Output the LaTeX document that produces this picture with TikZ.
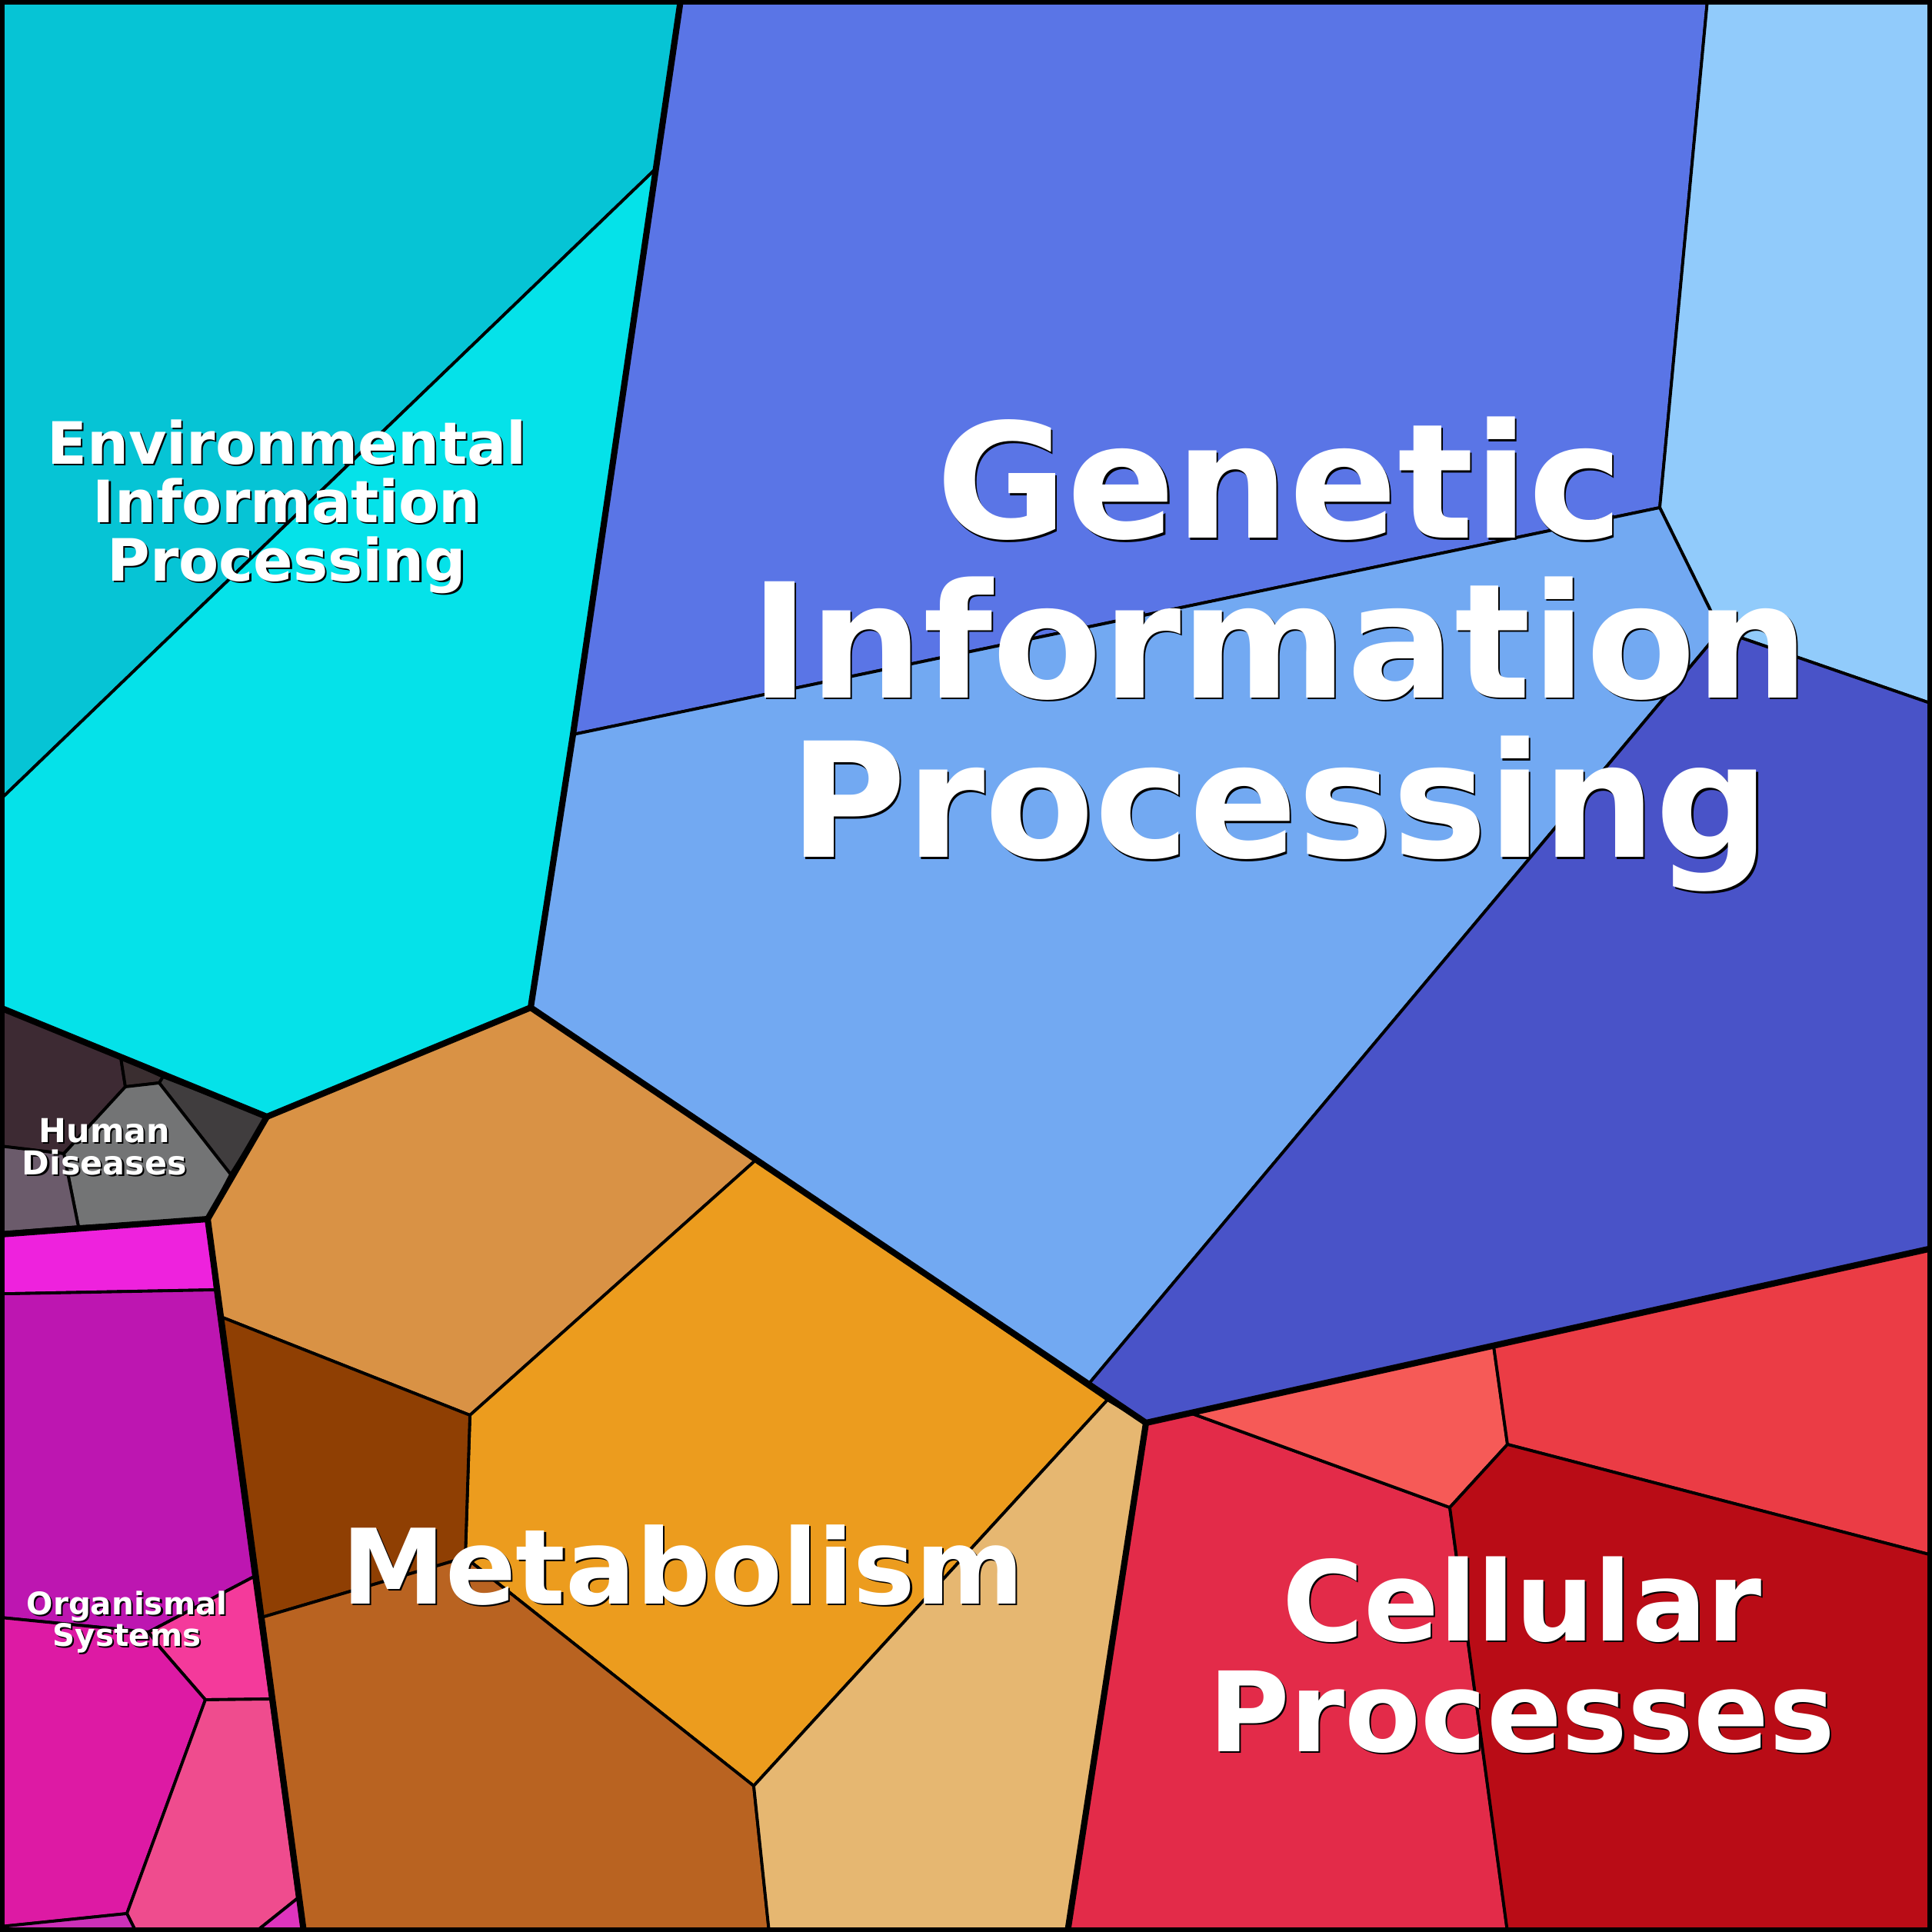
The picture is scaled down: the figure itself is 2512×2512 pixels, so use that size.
\documentclass[tikz,border=0pt]{standalone}
\usepackage{fontspec}
\setmainfont{DejaVu Sans}
\begin{document}
\begin{tikzpicture}[x=0.01cm,y=-0.01cm,
 cell/.style={draw=black,line width=1.1pt,line join=round},
 major/.style={draw=black,line width=2.3pt,line join=round},
 lbl/.style={text=white,align=center,inner sep=0pt}]
\useasboundingbox (0,0) rectangle (2512,2512);
% Environmental
\path[cell,fill={rgb,255:red,6;green,196;blue,213}] (0,0)--(885,0)--(852,220)--(0,1040)--cycle;
\path[cell,fill={rgb,255:red,5;green,226;blue,233}] (0,1040)--(852,220)--(745,955)--(690,1310)--(347,1452)--(0,1310)--cycle;
% Genetic
\path[cell,fill={rgb,255:red,90;green,117;blue,230}] (885,0)--(2220,0)--(2158,660)--(745,955)--cycle;
\path[cell,fill={rgb,255:red,145;green,203;blue,251}] (2220,0)--(2512,0)--(2512,915)--(2237,820)--(2158,660)--cycle;
\path[cell,fill={rgb,255:red,114;green,169;blue,242}] (745,955)--(2158,660)--(2237,820)--(1415,1800)--(690,1310)--cycle;
\path[cell,fill={rgb,255:red,73;green,83;blue,200}] (2237,820)--(2512,915)--(2512,1623)--(1490,1850)--(1415,1800)--cycle;
% Metabolism
\path[cell,fill={rgb,255:red,217;green,146;blue,69}] (347,1452)--(690,1310)--(983,1508)--(611,1840)--(287,1712)--(270,1585)--cycle;
\path[cell,fill={rgb,255:red,236;green,156;blue,30}] (983,1508)--(1440,1820)--(980,2322)--(605,2025)--(611,1840)--cycle;
\path[cell,fill={rgb,255:red,143;green,63;blue,3}] (287,1712)--(611,1840)--(605,2025)--(340,2103)--cycle;
\path[cell,fill={rgb,255:red,185;green,99;blue,33}] (340,2103)--(605,2025)--(980,2322)--(1000,2512)--(395,2512)--cycle;
\path[cell,fill={rgb,255:red,230;green,183;blue,113}] (1440,1820)--(1490,1850)--(1388,2512)--(1000,2512)--(980,2322)--cycle;
% Cellular
\path[cell,fill={rgb,255:red,227;green,43;blue,73}] (1490,1850)--(1550,1838)--(1885,1960)--(1960,2512)--(1388,2512)--cycle;
\path[cell,fill={rgb,255:red,246;green,90;blue,87}] (1550,1838)--(1942,1750)--(1960,1878)--(1885,1960)--cycle;
\path[cell,fill={rgb,255:red,235;green,60;blue,69}] (1942,1750)--(2512,1623)--(2512,2022)--(1960,1878)--cycle;
\path[cell,fill={rgb,255:red,185;green,12;blue,22}] (1885,1960)--(1960,1878)--(2512,2022)--(2512,2512)--(1960,2512)--cycle;
% Human diseases
\path[cell,fill={rgb,255:red,61;green,42;blue,51}] (0,1310)--(157,1375)--(163,1413)--(83,1500)--(0,1490)--cycle;
\path[cell,fill={rgb,255:red,58;green,46;blue,48}] (157,1375)--(212,1400)--(207,1408)--(163,1413)--cycle;
\path[cell,fill={rgb,255:red,64;green,61;blue,62}] (212,1400)--(347,1452)--(300,1527)--(207,1408)--cycle;
\path[cell,fill={rgb,255:red,115;green,116;blue,117}] (163,1413)--(207,1408)--(300,1527)--(270,1585)--(102,1595)--(83,1500)--cycle;
\path[cell,fill={rgb,255:red,107;green,91;blue,107}] (0,1490)--(83,1500)--(102,1595)--(0,1603)--cycle;
% Organismal
\path[cell,fill={rgb,255:red,238;green,34;blue,221}] (0,1605)--(270,1585)--(280,1677)--(15,1682)--(0,1682)--cycle;
\path[cell,fill={rgb,255:red,189;green,22;blue,177}] (0,1682)--(15,1682)--(280,1677)--(330,2050)--(193,2122)--(0,2103)--cycle;
\path[cell,fill={rgb,255:red,244;green,58;blue,155}] (330,2050)--(352,2209)--(267,2210)--(208,2142)--(193,2122)--cycle;
\path[cell,fill={rgb,255:red,221;green,26;blue,164}] (0,2103)--(193,2122)--(208,2142)--(267,2210)--(165,2488)--(0,2505)--cycle;
\path[cell,fill={rgb,255:red,239;green,76;blue,142}] (267,2210)--(352,2209)--(387,2468)--(332,2512)--(177,2512)--(165,2488)--cycle;
\path[cell,fill={rgb,255:red,222;green,52;blue,190}] (387,2468)--(395,2512)--(332,2512)--cycle;
\path[cell,fill={rgb,255:red,204;green,48;blue,184}] (0,2505)--(165,2488)--(177,2512)--(0,2512)--cycle;
% major boundaries
\draw[major] (885,0)--(745,955)--(690,1310)--(347,1452)--(0,1310);
\draw[major] (690,1310)--(1490,1850)--(2512,1623);
\draw[major] (1490,1850)--(1388,2512);
\draw[major] (347,1452)--(270,1585)--(0,1605);
\draw[major] (270,1585)--(395,2512);
\draw[line width=3.5pt] (0,0) rectangle (2512,2512);
% labels
\foreach \n/\x/\y/\s/\b/\t in {
 env/373/659/21.6/21.6/{Environmental\\Information\\Processing},
 gen/1664/851/59/59/{Genetic\\Information\\Processing},
 met/888/2035/38.5/38.5/{Metabolism},
 cel/1979/2152/41/41/{Cellular\\Processes},
 hum/136/1491/12.2/12/{Human\\Diseases},
 org/165/2109/11.5/11.5/{Organismal\\Systems}}{
 \node[lbl,text=black,font=\fontsize{\s pt}{\b pt}\selectfont\bfseries] (\n s) at ([xshift=0.6pt,yshift=-0.6pt]\x,\y) {\t};
 \node[lbl,font=\fontsize{\s pt}{\b pt}\selectfont\bfseries] (\n) at (\x,\y) {\t};
}
\end{tikzpicture}
\end{document}
